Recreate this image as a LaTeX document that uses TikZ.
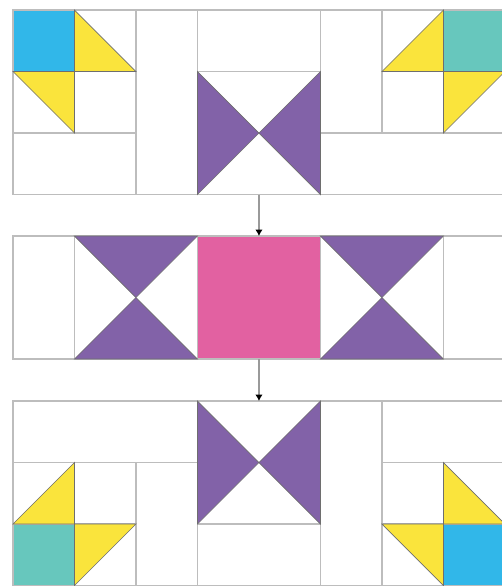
\documentclass[tikz,border=0pt]{standalone}
\usetikzlibrary{arrows.meta}
\definecolor{SkyBlue}{HTML}{31B7E9}
\definecolor{Sun}{HTML}{FAE43C}
\definecolor{Mint}{HTML}{67C7BD}
\definecolor{Plum}{HTML}{8262A8}
\definecolor{Rose}{HTML}{E261A1}
\definecolor{GridGray}{HTML}{BDBDBD}
\definecolor{EdgeGray}{HTML}{6E6E6E}
\definecolor{LineGray}{HTML}{9A9A9A}

\begin{document}
\begin{tikzpicture}[
    cell/.style={draw=GridGray,fill=white,line width=0.5pt,inner sep=0pt,
                 outer sep=0pt,anchor=north west},
    patch/.style={draw=EdgeGray,line width=0.3pt},
    flow/.style={draw=LineGray,line width=0.6pt,
                 -{Latex[length=3pt,width=3.5pt,black]}}]
  \useasboundingbox (-0.211,0.163) rectangle (7.951,-9.366);

  % top block
  \node[cell,fill=SkyBlue,minimum width=1cm,minimum height=1cm] (ta) at (0,0) {};
  \node[cell,minimum width=1cm,minimum height=1cm] (tb) at (1,0) {};
  \node[cell,minimum width=1cm,minimum height=1cm] (tc) at (0,-1) {};
  \node[cell,minimum width=1cm,minimum height=1cm] (td) at (1,-1) {};
  \node[cell,minimum width=2cm,minimum height=1cm] (te) at (0,-2) {};
  \node[cell,minimum width=1cm,minimum height=3cm] (tf) at (2,0) {};
  \node[cell,minimum width=2cm,minimum height=1cm] (tg) at (3,0) {};
  \node[cell,minimum width=2cm,minimum height=2cm] (tbow) at (3,-1) {};
  \node[cell,minimum width=1cm,minimum height=2cm] (th) at (5,0) {};
  \node[cell,minimum width=1cm,minimum height=1cm] (ti) at (6,0) {};
  \node[cell,fill=Mint,minimum width=1cm,minimum height=1cm] (tj) at (7,0) {};
  \node[cell,minimum width=1cm,minimum height=1cm] (tk) at (6,-1) {};
  \node[cell,minimum width=1cm,minimum height=1cm] (tl) at (7,-1) {};
  \node[cell,minimum width=3cm,minimum height=1cm] (tm) at (5,-2) {};
  \draw[patch,fill=Sun] (tb.north west) -- (tb.south east) -- (tb.south west) -- cycle;
  \draw[patch,fill=Sun] (tc.north west) -- (tc.north east) -- (tc.south east) -- cycle;
  \draw[patch,fill=Sun] (ti.north east) -- (ti.south east) -- (ti.south west) -- cycle;
  \draw[patch,fill=Sun] (tl.north west) -- (tl.north east) -- (tl.south west) -- cycle;
  \draw[patch,fill=Plum] (tbow.north west) -- (tbow.center) -- (tbow.south west) -- cycle;
  \draw[patch,fill=Plum] (tbow.north east) -- (tbow.center) -- (tbow.south east) -- cycle;

  % middle block
  \begin{scope}[yshift=-3.675cm]
    \node[cell,minimum width=1cm,minimum height=2cm] (ma) at (0,0) {};
    \node[cell,minimum width=2cm,minimum height=2cm] (mb) at (1,0) {};
    \node[cell,fill=Rose,minimum width=2cm,minimum height=2cm] (mpink) at (3,0) {};
    \node[cell,minimum width=2cm,minimum height=2cm] (mc) at (5,0) {};
    \node[cell,minimum width=1cm,minimum height=2cm] (md) at (7,0) {};
    \draw[patch,fill=Plum] (mb.north west) -- (mb.north east) -- (mb.center) -- cycle;
    \draw[patch,fill=Plum] (mb.south west) -- (mb.south east) -- (mb.center) -- cycle;
    \draw[patch,fill=Plum] (mc.north west) -- (mc.north east) -- (mc.center) -- cycle;
    \draw[patch,fill=Plum] (mc.south west) -- (mc.south east) -- (mc.center) -- cycle;
  \end{scope}

  % bottom block
  \begin{scope}[yshift=-6.358cm]
    \node[cell,minimum width=3cm,minimum height=1cm] (ba) at (0,0) {};
    \node[cell,minimum width=1cm,minimum height=1cm] (bb) at (0,-1) {};
    \node[cell,fill=Mint,minimum width=1cm,minimum height=1cm] (bc) at (0,-2) {};
    \node[cell,minimum width=1cm,minimum height=1cm] (bd) at (1,-2) {};
    \node[cell,minimum width=1cm,minimum height=1cm] (be) at (1,-1) {};
    \node[cell,minimum width=1cm,minimum height=2cm] (bf) at (2,-1) {};
    \node[cell,minimum width=2cm,minimum height=2cm] (bbow) at (3,0) {};
    \node[cell,minimum width=2cm,minimum height=1cm] (bg) at (3,-2) {};
    \node[cell,minimum width=1cm,minimum height=3cm] (bh) at (5,0) {};
    \node[cell,minimum width=2cm,minimum height=1cm] (bi) at (6,0) {};
    \node[cell,minimum width=1cm,minimum height=1cm] (bj) at (6,-2) {};
    \node[cell,minimum width=1cm,minimum height=1cm] (bk) at (7,-1) {};
    \node[cell,minimum width=1cm,minimum height=1cm] (bm) at (6,-1) {};
    \node[cell,fill=SkyBlue,minimum width=1cm,minimum height=1cm] (bl) at (7,-2) {};
    \draw[patch,fill=Sun] (bb.south west) -- (bb.north east) -- (bb.south east) -- cycle;
    \draw[patch,fill=Sun] (bd.north west) -- (bd.north east) -- (bd.south west) -- cycle;
    \draw[patch,fill=Sun] (bj.north west) -- (bj.north east) -- (bj.south east) -- cycle;
    \draw[patch,fill=Sun] (bk.north west) -- (bk.south west) -- (bk.south east) -- cycle;
    \draw[patch,fill=Plum] (bbow.north west) -- (bbow.center) -- (bbow.south west) -- cycle;
    \draw[patch,fill=Plum] (bbow.north east) -- (bbow.center) -- (bbow.south east) -- cycle;
  \end{scope}

  % arrows
  \draw[flow] (tbow.south) -- (mpink.north);
  \draw[flow] (mpink.south) -- (bbow.north);
\end{tikzpicture}
\end{document}
